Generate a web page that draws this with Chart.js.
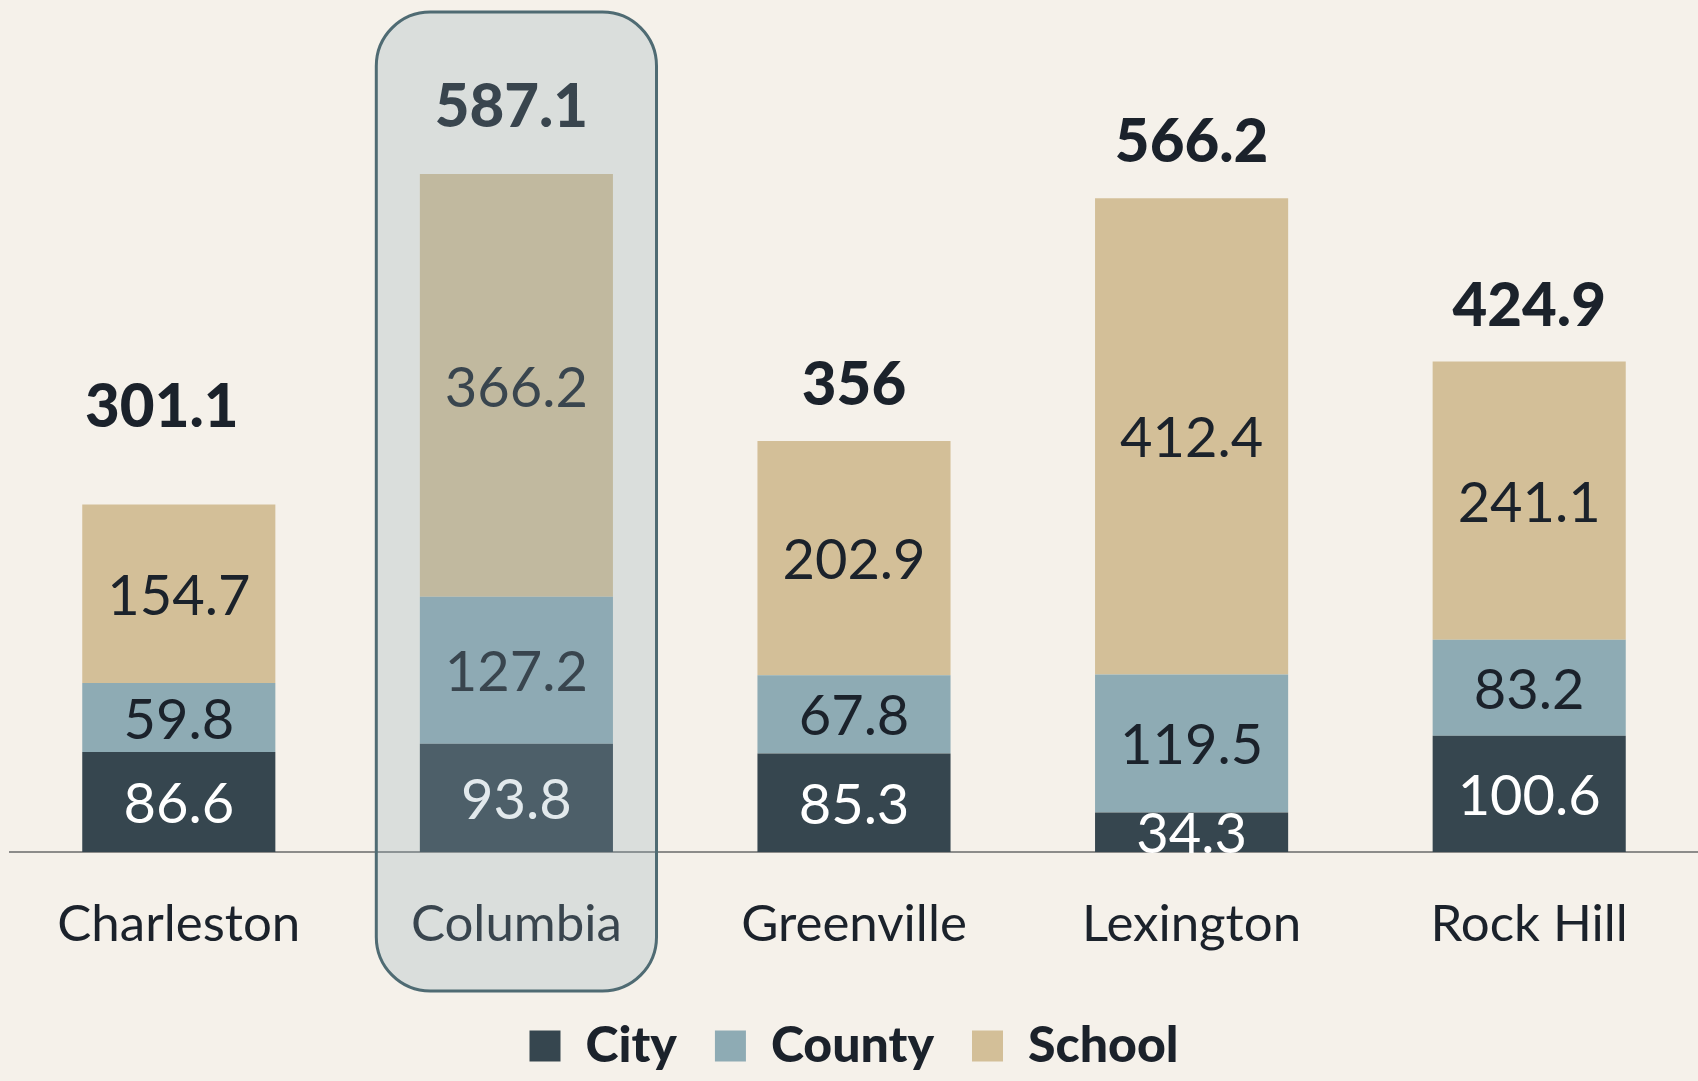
<!DOCTYPE html>
<html lang="en">
  <head>
    <meta charset="UTF-8" />
    <title>Millage by jurisdiction</title>
    <style>
      body { margin: 0; background: #f5f1ea; }
      canvas { display: block; }
    </style>
  </head>
  <body>
    <canvas id="chart" width="1698" height="1081"></canvas>

    <script src="https://cdn.jsdelivr.net/npm/chart.js@4.4.0/dist/chart.umd.min.js"></script>
    <script>
      // values
      const cities = ["Charleston", "Columbia", "Greenville", "Lexington", "Rock Hill"];
      const cityMills = [86.6, 93.8, 85.3, 34.3, 100.6];
      const countyMills = [59.8, 127.2, 67.8, 119.5, 83.2];
      const schoolMills = [154.7, 366.2, 202.9, 412.4, 241.1];
      const totals = [301.1, 587.1, 356, 566.2, 424.9];

      const darkText = "#1b222b";

      // numbers inside each segment + the bold total above the stack
      const barLabels = {
        id: "barLabels",
        afterDatasetsDraw(chart, args, opts) {
          const ctx = chart.ctx;
          ctx.save();
          ctx.textAlign = "center";
          ctx.textBaseline = "middle";
          ctx.font = "56px Lato";
          chart.data.datasets.forEach((ds, i) => {
            chart.getDatasetMeta(i).data.forEach((bar, j) => {
              ctx.fillStyle = ds.labelColor;
              ctx.fillText(String(ds.data[j]), bar.x, (bar.y + bar.base) / 2 + 3);
            });
          });
          const topBars = chart.getDatasetMeta(2).data;
          ctx.font = "900 60px Lato";
          ctx.fillStyle = darkText;
          totals.forEach((t, j) => {
            const y = chart.scales.y.getPixelForValue(t) - opts.lift[j];
            ctx.fillText(String(t), topBars[j].x + opts.shift[j], y);
          });
          ctx.restore();
        },
      };

      // rounded box over the highlighted city
      const highlight = {
        id: "highlight",
        afterDraw(chart, args, opts) {
          const { ctx, scales } = chart;
          const x = scales.x;
          const cx = x.getPixelForValue(opts.index);
          const half = (x.getPixelForValue(1) - x.getPixelForValue(0)) * 0.415;
          ctx.save();
          ctx.beginPath();
          ctx.roundRect(cx - half, opts.top, half * 2, opts.bottom - opts.top, 54);
          ctx.fillStyle = "rgba(143,171,180,0.26)";
          ctx.fill();
          ctx.lineWidth = 3;
          ctx.strokeStyle = "#4f6b73";
          ctx.stroke();
          ctx.restore();
        },
      };

      new Chart(document.getElementById("chart"), {
        type: "bar",
        data: {
          labels: cities,
          datasets: [
            { label: "City", data: cityMills, backgroundColor: "#36464f", labelColor: "#ffffff" },
            { label: "County", data: countyMills, backgroundColor: "#8eabb4", labelColor: darkText },
            { label: "School", data: schoolMills, backgroundColor: "#d3bf98", labelColor: darkText },
          ],
        },
        options: {
          responsive: false,
          animation: false,
          layout: { padding: { left: 10, right: 0, top: 0, bottom: 0 } },
          datasets: {
            bar: { barPercentage: 1, categoryPercentage: 0.572, borderWidth: 0 },
          },
          scales: {
            x: {
              stacked: true,
              grid: { display: false, drawTicks: false },
              border: { display: true, color: "#8c8c8a", width: 2 },
              ticks: {
                color: darkText,
                padding: 42,
                font: { family: "Lato", size: 51 },
              },
              afterFit(scale) {
                scale.height = 131;
              },
            },
            y: {
              stacked: true,
              display: false,
              min: 0,
              max: 738,
            },
          },
          plugins: {
            tooltip: { enabled: false },
            legend: {
              position: "bottom",
              labels: {
                boxWidth: 31,
                boxHeight: 31,
                padding: 38,
                color: darkText,
                font: { family: "Lato", size: 50, weight: "900" },
              },
            },
            barLabels: { lift: [97, 67, 55, 56, 55], shift: [-17, -5, 0, 0, 0] },
            highlight: { index: 1, top: 12, bottom: 991 },
          },
        },
        plugins: [barLabels, highlight],
      });
    </script>
  </body>
</html>
